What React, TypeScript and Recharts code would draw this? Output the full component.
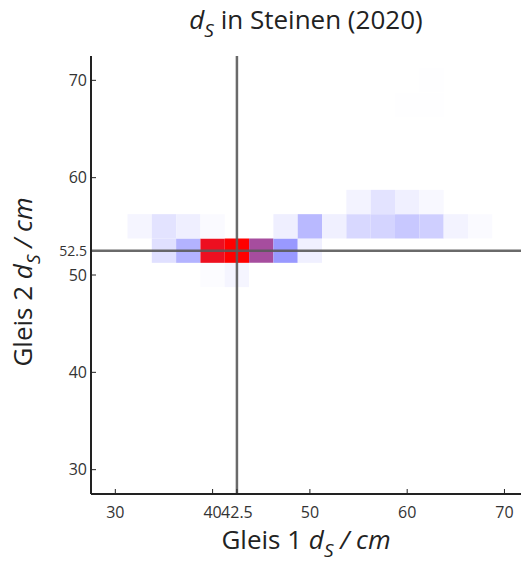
import { ScatterChart, Scatter, XAxis, YAxis, ReferenceArea, ReferenceLine } from "recharts"

// Bin centers (cm), bin width 2.5 in both directions
const xCenters = [32.5, 35, 37.5, 40, 42.5, 45, 47.5, 50, 52.5, 55, 57.5, 60, 62.5, 65, 67.5]
const yCenters = [50, 52.5, 55, 57.5, 67.5, 70]

// Counts per row (same order as xCenters)
const row50 = [0, 0, 0, 3, 9, 0, 0, 0, 0, 0, 0, 0, 0, 0, 0]
const row52_5 = [0, 28, 69, 279, 300, 195, 93, 14, 0, 0, 0, 0, 0, 0, 0]
const row55 = [9, 26, 15, 5, 0, 0, 15, 64, 14, 36, 39, 50, 44, 11, 5]
const row57_5 = [0, 0, 0, 0, 0, 0, 0, 0, 0, 11, 26, 14, 6, 0, 0]
const row67_5 = [0, 0, 0, 0, 0, 0, 0, 0, 0, 0, 0, 1, 1, 0, 0]
const row70 = [0, 0, 0, 0, 0, 0, 0, 0, 0, 0, 0, 0, 1, 0, 0]

const rows = [row50, row52_5, row55, row57_5, row67_5, row70]

const xTicks = [30, 40, 42.5, 50, 60, 70]
const yTicks = [30, 40, 50, 52.5, 60, 70]
const markX = 42.5
const markY = 52.5

const BIN = 2.5
const FONT = "'Open Sans', 'Noto Sans', sans-serif"

// white -> blue -> purple -> red
const STOPS: [number, number[]][] = [
  [0, [255, 255, 255]],
  [0.35, [140, 140, 255]],
  [0.65, [166, 77, 158]],
  [1, [255, 0, 0]],
]

function colorFor(t: number) {
  for (let i = 1; i < STOPS.length; i++) {
    const [t1, c1] = STOPS[i]
    const [t0, c0] = STOPS[i - 1]
    if (t <= t1) {
      const f = (t - t0) / (t1 - t0)
      const c = c0.map((v, k) => Math.round(v + (c1[k] - v) * f))
      return `rgb(${c[0]},${c[1]},${c[2]})`
    }
  }
  return "rgb(255,0,0)"
}

const maxCount = Math.max(...rows.flat())

const cells = rows.flatMap((row, r) =>
  row
    .map((count, i) => ({ x: xCenters[i], y: yCenters[r], count }))
    .filter((c) => c.count > 0),
)

const XTick = (props: any) => {
  const { x, y, payload } = props
  return (
    <g>
      <line x1={x} x2={x} y1={y} y2={y - 5} stroke="#222" strokeWidth={1} />
      <text x={x} y={y + 24} textAnchor="middle" fontSize={16} fill="#333" fontFamily={FONT}>
        {payload.value}
      </text>
    </g>
  )
}

const YTick = (props: any) => {
  const { x, y, payload } = props
  const small = payload.value === markY
  return (
    <g>
      {!small && <line x1={x} x2={x + 5} y1={y} y2={y} stroke="#222" strokeWidth={1} />}
      <text
        x={x - 4}
        y={y}
        dy="0.35em"
        textAnchor="end"
        fontSize={small ? 14 : 16}
        fill="#333"
        fontFamily={FONT}
      >
        {payload.value}
      </text>
    </g>
  )
}

const subStyle = { fontSize: 19, fontStyle: "italic" as const, verticalAlign: "-8px" }

export default function App() {
  return (
    <div style={{ position: "absolute", left: 0, top: 0, width: 521, height: 565, fontFamily: FONT }}>
      <ScatterChart width={521} height={565} margin={{ top: 56, right: 0, bottom: 41, left: 51 }}>
        <XAxis
          type="number"
          dataKey="x"
          domain={[27.5, 71.7]}
          ticks={xTicks}
          interval={0}
          tick={<XTick />}
          tickLine={false}
          tickSize={0}
          tickMargin={0}
          height={30}
          axisLine={{ stroke: "#222", strokeWidth: 2 }}
          allowDataOverflow
        />
        <YAxis
          type="number"
          dataKey="y"
          domain={[27.5, 72.5]}
          ticks={yTicks}
          interval={0}
          tick={<YTick />}
          tickLine={false}
          tickSize={0}
          tickMargin={0}
          width={40}
          axisLine={{ stroke: "#222", strokeWidth: 2 }}
          allowDataOverflow
        />
        {cells.map((c, i) => (
          <ReferenceArea
            key={`cell-${i}`}
            x1={c.x - BIN / 2}
            x2={c.x + BIN / 2}
            y1={c.y - BIN / 2}
            y2={c.y + BIN / 2}
            fill={colorFor(c.count / maxCount)}
            fillOpacity={1}
            stroke="none"
            ifOverflow="visible"
          />
        ))}
        <ReferenceLine x={markX} stroke="#5a5a5a" strokeWidth={2.5} strokeOpacity={0.9} />
        <ReferenceLine y={markY} stroke="#5a5a5a" strokeWidth={2.5} strokeOpacity={0.9} />
        <Scatter data={cells} fill="none" shape={() => <g />} isAnimationActive={false} />
      </ScatterChart>

      <div
        style={{
          position: "absolute",
          top: 2,
          left: 91,
          width: 430,
          textAlign: "center",
          fontSize: 26,
          color: "#222",
          lineHeight: "34px",
        }}
      >
        <i>d</i>
        <sub style={subStyle}>S</sub> in Steinen (2020)
      </div>

      <div
        style={{
          position: "absolute",
          top: 522,
          left: 91,
          width: 430,
          textAlign: "center",
          fontSize: 26,
          color: "#222",
          lineHeight: "34px",
        }}
      >
        Gleis 1 <i>d</i>
        <sub style={subStyle}>S</sub> <i>/ cm</i>
      </div>

      <div
        style={{
          position: "absolute",
          left: 27,
          top: 282,
          transform: "translate(-50%, -50%) rotate(-90deg)",
          whiteSpace: "nowrap",
          fontSize: 26,
          color: "#222",
          lineHeight: "34px",
        }}
      >
        Gleis 2 <i>d</i>
        <sub style={subStyle}>S</sub> <i>/ cm</i>
      </div>
    </div>
  )
}
